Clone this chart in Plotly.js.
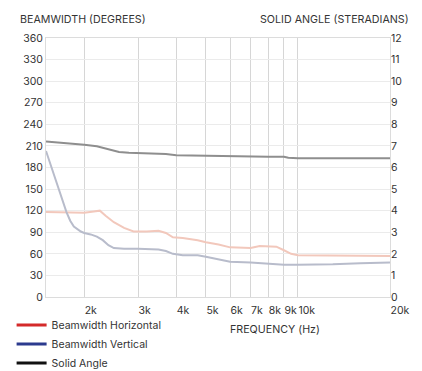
<!DOCTYPE html>
<html>
<head>
<meta charset="utf-8">
<script src="https://cdn.plot.ly/plotly-3.0.1.min.js"></script>
<style>
html,body{margin:0;padding:0;background:#fff;}
#chart{width:422px;height:371px;}
</style>
</head>
<body>
<div id="chart"></div>
<script>
// Frequency tick positions and labels
const freqTicks = [2000, 3000, 4000, 5000, 6000, 7000, 8000, 9000, 10000, 20000];
const freqTickText = ['2k', '3k', '4k', '5k', '6k', '7k', '8k', '9k', '10k', '20k'];

// Beamwidth Horizontal (degrees)
const freqH = [1500, 1800, 2000, 2150, 2250, 2350, 2500, 2700, 2900, 3200, 3500, 3700, 3900, 4200, 4700, 5000, 5500, 6000, 7000, 7500, 8000, 8500, 9000, 9500, 10000, 12000, 20000];
const bwH   = [118, 117, 117, 119, 120, 113, 104, 96, 91, 91, 92, 89, 83, 82, 79, 76, 73, 69, 68, 71, 71, 70, 65, 60, 58, 58, 57];

// Beamwidth Vertical (degrees)
const freqV = [1500, 1550, 1600, 1650, 1700, 1750, 1800, 1850, 1950, 2000, 2100, 2200, 2300, 2400, 2500, 2700, 3000, 3500, 3700, 3900, 4200, 4700, 5000, 5500, 6000, 7000, 7500, 8000, 9000, 10000, 13000, 16000, 20000];
const bwV   = [203, 185, 168, 150, 135, 118, 106, 98, 91, 89, 87, 84, 79, 72, 68, 67, 67, 66, 64, 60, 58, 58, 56, 52, 49, 48, 47, 47, 45, 45, 45.5, 47, 48];

// Solid Angle (steradians)
const freqS = [1500, 1600, 1700, 1800, 2000, 2200, 2400, 2600, 2800, 3000, 3500, 3700, 4000, 5000, 5500, 6000, 7000, 8000, 9000, 9300, 10000, 15000, 20000];
const solidAngle = [7.2, 7.17, 7.14, 7.12, 7.05, 6.98, 6.85, 6.72, 6.68, 6.67, 6.66, 6.63, 6.57, 6.55, 6.53, 6.5, 6.5, 6.5, 6.5, 6.45, 6.43, 6.43, 6.43];

const seriesNames = ['Beamwidth Horizontal', 'Beamwidth Vertical', 'Solid Angle'];

const FONT = 'Inter, "Noto Sans", sans-serif';
const TXT = '#333333';

const traces = [
  {x: freqH, y: bwH, type: 'scatter', mode: 'lines', yaxis: 'y', showlegend: false,
   line: {color: '#f2c8bc', width: 2}, hoverinfo: 'skip'},
  {x: freqV, y: bwV, type: 'scatter', mode: 'lines', yaxis: 'y', showlegend: false,
   line: {color: '#b8bccb', width: 2}, hoverinfo: 'skip'},
  {x: freqS, y: solidAngle, type: 'scatter', mode: 'lines', yaxis: 'y2', showlegend: false,
   line: {color: '#8e8e8e', width: 2}, hoverinfo: 'skip'},
  // legend entries
  {x: [null], y: [null], type: 'scatter', mode: 'lines', name: seriesNames[0], line: {color: '#d42a2a', width: 3}},
  {x: [null], y: [null], type: 'scatter', mode: 'lines', name: seriesNames[1], line: {color: '#2b3a8e', width: 3}},
  {x: [null], y: [null], type: 'scatter', mode: 'lines', name: seriesNames[2], line: {color: '#111111', width: 3}}
];

const layout = {
  width: 422, height: 371,
  margin: {l: 46, r: 32, t: 38, b: 74, autoexpand: false},
  paper_bgcolor: '#ffffff', plot_bgcolor: '#ffffff',
  font: {family: FONT, size: 10, color: TXT},
  showlegend: true,
  legend: {x: -0.1, xanchor: 'left', y: -0.052, yanchor: 'top', orientation: 'v',
           font: {family: FONT, size: 10.5, color: TXT}, itemwidth: 30, tracegroupgap: 0,
           bgcolor: 'rgba(0,0,0,0)', borderwidth: 0},
  xaxis: {
    type: 'log', range: [Math.log10(1500), Math.log10(20000)],
    tickvals: freqTicks, ticktext: freqTickText, ticks: '', tickangle: 0,
    ticklabelposition: 'outside right', ticklabelstandoff: 3,
    showgrid: true, gridcolor: '#d6d6d6', gridwidth: 1, automargin: false,
    showline: true, mirror: true, linecolor: '#dcdcdc', linewidth: 1,
    zeroline: false, tickfont: {family: FONT, size: 10.5, color: TXT}
  },
  yaxis: {
    range: [0, 360], dtick: 30, tick0: 0, ticks: '', automargin: false,
    showgrid: true, gridcolor: '#ebebeb', gridwidth: 1,
    showline: true, mirror: true, linecolor: '#dcdcdc', linewidth: 1,
    zeroline: false, tickfont: {family: FONT, size: 10.5, color: TXT}
  },
  yaxis3: {
    range: [0, 360], dtick: 60, tick0: 0, overlaying: 'y', showticklabels: false, ticks: '',
    showgrid: true, gridcolor: '#d6d6d6', gridwidth: 1, zeroline: false, showline: false
  },
  yaxis2: {
    range: [0, 12], dtick: 1, tick0: 0, overlaying: 'y', side: 'right', ticks: '', automargin: false,
    showgrid: false, zeroline: false, showline: false,
    tickfont: {family: FONT, size: 10.5, color: TXT}
  },
  annotations: [
    {text: 'BEAMWIDTH (DEGREES)', xref: 'paper', yref: 'paper', x: -0.081, y: 1.07,
     xanchor: 'left', yanchor: 'middle', showarrow: false, font: {family: FONT, size: 10.7, color: TXT}},
    {text: 'SOLID ANGLE (STERADIANS)', xref: 'paper', yref: 'paper', x: 1.06, y: 1.07,
     xanchor: 'right', yanchor: 'middle', showarrow: false, font: {family: FONT, size: 10.7, color: TXT}},
    {text: 'FREQUENCY (Hz)', xref: 'paper', yref: 'paper', x: 0.666, y: -0.125,
     xanchor: 'center', yanchor: 'middle', showarrow: false, font: {family: FONT, size: 10.7, color: TXT}}
  ]
};

Plotly.newPlot('chart', traces, layout, {displayModeBar: false, staticPlot: true});
</script>
</body>
</html>
